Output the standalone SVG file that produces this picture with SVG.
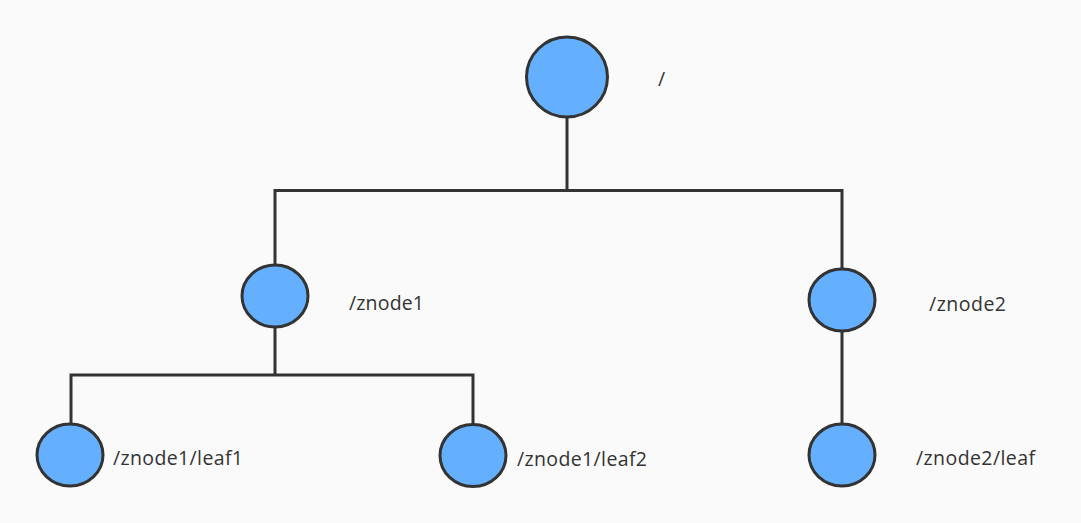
<svg xmlns="http://www.w3.org/2000/svg" width="1081" height="523" viewBox="0 0 1081 523">
<style>
.n{fill:#64b0ff;stroke:#333;stroke-width:3}
.c{fill:none;stroke:#333;stroke-width:3}
.t{font-family:"Open Sans","Liberation Sans",sans-serif;font-size:19.5px;fill:#333}
</style>
<rect width="1081" height="523" fill="#fafafa"/>
<g id="connectors">
<polyline class="c" points="567,117 567,190.5"/>
<polyline class="c" points="275,265 275,190.5 842,190.5 842,269"/>
<polyline class="c" points="275,327 275,375"/>
<polyline class="c" points="71,424 71,375 473,375 473,424"/>
<polyline class="c" points="842,331 842,424"/>
</g>
<g id="root"><ellipse class="n" cx="567" cy="77" rx="40.5" ry="40"/><text class="t" x="658" y="86">/</text></g>
<g id="znode1"><ellipse class="n" cx="275" cy="296" rx="33" ry="31"/><text class="t" x="349" y="309.5" textLength="75" lengthAdjust="spacing">/znode1</text></g>
<g id="znode2"><ellipse class="n" cx="842" cy="300" rx="33" ry="31"/><text class="t" x="929" y="310.5" textLength="77" lengthAdjust="spacing">/znode2</text></g>
<g id="leaf1"><ellipse class="n" cx="70" cy="455" rx="33" ry="31"/><text class="t" x="113" y="465" textLength="130" lengthAdjust="spacing">/znode1/leaf1</text></g>
<g id="leaf2"><ellipse class="n" cx="473" cy="455.5" rx="33" ry="31"/><text class="t" x="517" y="465.5" textLength="130" lengthAdjust="spacing">/znode1/leaf2</text></g>
<g id="leaf"><ellipse class="n" cx="842" cy="455" rx="33" ry="31"/><text class="t" x="916" y="465" textLength="119" lengthAdjust="spacing">/znode2/leaf</text></g>
</svg>
